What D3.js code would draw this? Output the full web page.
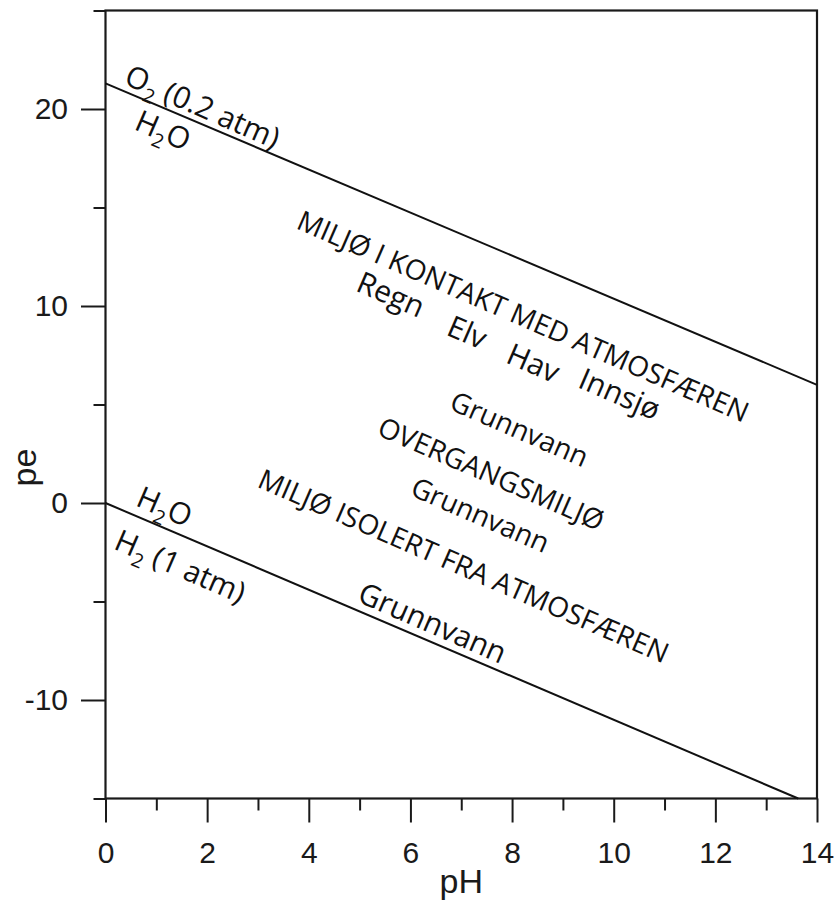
<!DOCTYPE html>
<html>
<head>
<meta charset="utf-8">
<script src="https://cdn.jsdelivr.net/npm/d3@7"></script>
<style>
  body { margin: 0; background: #fff; }
  svg { display: block; }
</style>
</head>
<body>
<div id="chart"></div>
<script>
// canvas size
let WIDTH = 835,
    HEIGHT = 904;

// axis ticks
const xMajor = [0, 2, 4, 6, 8, 10, 12, 14];
const xMinor = [1, 3, 5, 7, 9, 11, 13];
const yMajor = [-10, 0, 10, 20];
const yMinor = [-15, -5, 5, 15, 25];

// stability limits of water (pH, pe)
const o2Line = [[0, 21.3], [14, 6.0]];
const h2Line = [[0, 0], [13.63, -15]];

// text labels: parts are [text, isSubscript], anchored at (pH, pe)
const labelParts = [
    [["O", 0], ["2", 1], [" (0.2 atm)", 0]],
    [["H", 0], ["2", 1], ["O", 0]],
    [["MILJØ I KONTAKT MED ATMOSFÆREN", 0]],
    [["Regn", 0]],
    [["Elv", 0]],
    [["Hav", 0]],
    [["Innsjø", 0]],
    [["Grunnvann", 0]],
    [["OVERGANGSMILJØ", 0]],
    [["Grunnvann", 0]],
    [["MILJØ ISOLERT FRA ATMOSFÆREN", 0]],
    [["Grunnvann", 0]],
    [["H", 0], ["2", 1], ["O", 0]],
    [["H", 0], ["2", 1], [" (1 atm)", 0]]
];
const labelPH = [0.34, 0.54, 3.73, 4.9, 6.68, 7.85, 9.27, 6.74, 5.32, 5.97, 2.96, 4.93, 0.57, 0.14];
const labelPE = [21.3, 19.0, 13.96, 10.8, 8.57, 7.16, 5.9, 4.78, 3.48, 0.42, 0.84, -4.98, -0.1, -2.3];
// the headings and the two upper "Grunnvann" are set a little smaller
const labelSize = [30, 30, 28, 30, 30, 30, 30, 28, 28, 28, 28, 30, 30, 30];

const svg = d3.select("#chart")
    .append("svg")
    .attr("width", WIDTH)
    .attr("height", HEIGHT);

const x = d3.scaleLinear().domain([0, 14]).range([105.5, 817]);
const y = d3.scaleLinear().domain([-15, 25]).range([798.5, 10.5]);

const tickFont = "'Liberation Sans', Arial, sans-serif";

// minor ticks first (no labels)
svg.append("g")
    .attr("transform", `translate(0,${y(-15)})`)
    .call(d3.axisBottom(x).tickValues(xMinor).tickSize(12).tickSizeOuter(0).tickFormat(""));
svg.append("g")
    .attr("transform", `translate(${x(0)},0)`)
    .call(d3.axisLeft(y).tickValues(yMinor).tickSize(12).tickSizeOuter(0).tickFormat(""));

// major ticks with labels
svg.append("g")
    .attr("transform", `translate(0,${y(-15)})`)
    .call(d3.axisBottom(x).tickValues(xMajor).tickSize(24).tickSizeOuter(0).tickPadding(19).tickFormat(d => String(d)));
svg.append("g")
    .attr("transform", `translate(${x(0)},0)`)
    .call(d3.axisLeft(y).tickValues(yMajor).tickSize(24.5).tickSizeOuter(0).tickPadding(13).tickFormat(d => String(d)));

svg.selectAll(".domain").remove();
svg.selectAll(".tick line").attr("stroke", "#1a1a1a").attr("stroke-width", 2);
svg.selectAll(".tick text")
    .attr("fill", "#1a1a1a")
    .style("font-family", tickFont)
    .style("font-size", "30px");

// frame
svg.append("rect")
    .attr("x", x(0))
    .attr("y", y(25))
    .attr("width", x(14) - x(0))
    .attr("height", y(-15) - y(25))
    .attr("fill", "none")
    .attr("stroke", "#1a1a1a")
    .attr("stroke-width", 2.2);

// boundary lines
const line = d3.line().x(d => x(d[0])).y(d => y(d[1]));
[o2Line, h2Line].forEach(pts => {
    svg.append("path")
        .attr("d", line(pts))
        .attr("fill", "none")
        .attr("stroke", "#111")
        .attr("stroke-width", 2);
});

// rotated labels
const ANGLE = 23.5;
labelParts.forEach((parts, i) => {
    const size = labelSize[i];
    const t = svg.append("text")
        .attr("transform", `translate(${x(labelPH[i])},${y(labelPE[i])}) rotate(${ANGLE})`)
        .attr("fill", "#111")
        .attr("xml:space", "preserve")
        .style("font-family", "'Open Sans', 'Noto Sans', sans-serif")
        .style("font-size", size + "px");
    let shifted = false;
    parts.forEach(([s, sub]) => {
        const ts = t.append("tspan").text(s);
        if (sub) {
            ts.attr("dy", 8).style("font-size", (size * 0.65) + "px");
            shifted = true;
        } else if (shifted) {
            ts.attr("dy", -8);
            shifted = false;
        }
    });
});

// axis titles
svg.append("text")
    .attr("x", (x(0) + x(14)) / 2)
    .attr("y", 893)
    .attr("text-anchor", "middle")
    .attr("fill", "#1a1a1a")
    .style("font-family", tickFont)
    .style("font-size", "34px")
    .text("pH");

svg.append("text")
    .attr("transform", `translate(36,${y(1.8)}) rotate(-90)`)
    .attr("text-anchor", "middle")
    .attr("fill", "#1a1a1a")
    .style("font-family", tickFont)
    .style("font-size", "34px")
    .text("pe");
</script>
</body>
</html>
